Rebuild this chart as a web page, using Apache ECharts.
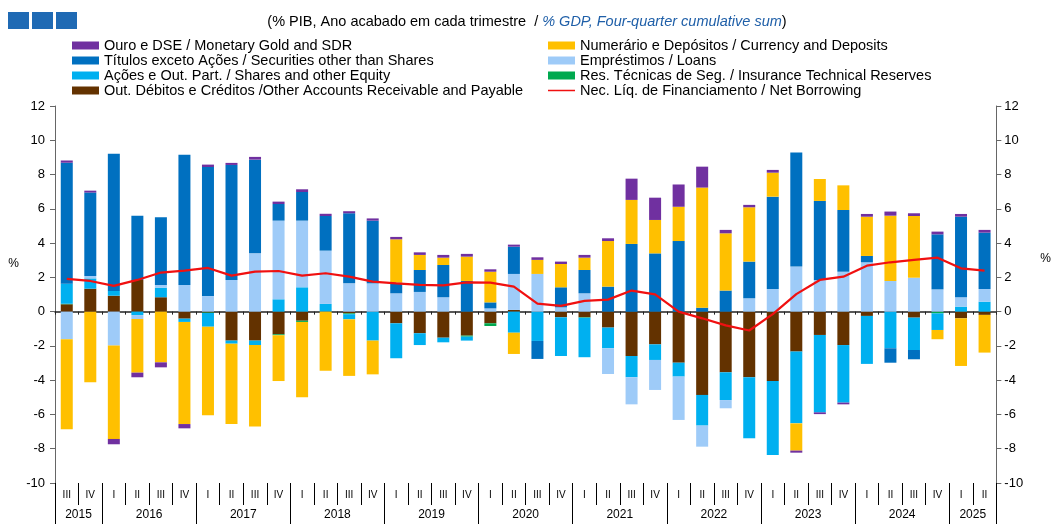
<!DOCTYPE html>
<html>
<head>
<meta charset="utf-8">
<script src="https://cdn.jsdelivr.net/npm/echarts@6/dist/echarts.min.js"></script>
<style>
  html, body { margin: 0; padding: 0; background: #fff; }
  #main { width: 1054px; height: 524px; }
</style>
</head>
<body>
<div id="main"></div>
<script>
// quarters on the axis, 2015 III .. 2025 II
const quarters = ['III','IV',
  'I','II','III','IV', 'I','II','III','IV', 'I','II','III','IV', 'I','II','III','IV',
  'I','II','III','IV', 'I','II','III','IV', 'I','II','III','IV', 'I','II','III','IV',
  'I','II','III','IV', 'I','II'];
const years = ['2015','2016','2017','2018','2019','2020','2021','2022','2023','2024','2025'];
const quartersPerYear = [2,4,4,4,4,4,4,4,4,4,2];
const yTicks = [-10,-8,-6,-4,-2,0,2,4,6,8,10,12];

// % GDP, four-quarter cumulative sum
const gold = [0.13,0.11,-0.31,-0.27,-0.29,-0.25,0.14,0.12,0.16,0.14,
  0.16,0.13,0.12,0.13,0.14,0.15,0.16,0.16,0.14,0.12,
  0.15,0.14,0.16,0.16,1.24,1.3,1.3,1.22,0.2,0.14,
  0.16,-0.12,-0.1,-0.1,0.16,0.24,0.16,0.16,0.16,0.16];
const currency = [-5.26,-4.12,-5.45,-3.13,-2.96,-5.96,-5.17,-4.69,-4.76,-2.67,
  -4.4,-3.45,-3.3,-1.97,2.53,0.88,0.43,1.42,1.79,-1.24,
  0.82,1.36,0.72,2.66,2.57,1.95,2.0,7.01,3.34,3.17,
  1.4,-1.59,1.28,1.44,2.29,3.81,3.6,-0.54,-2.78,-2.2];
const securities = [7.06,4.87,8.0,3.75,3.95,7.6,7.53,6.71,5.47,0.97,
  1.67,2.02,4.09,3.66,0.62,1.28,1.88,1.79,0.35,1.59,
  -1.05,1.17,1.36,1.46,3.95,3.4,4.12,0.23,1.23,2.14,
  5.39,6.65,4.61,3.6,0.37,-0.84,-0.54,3.21,4.7,3.29];
const loans = [-1.61,0.14,-1.98,-0.23,0.16,1.56,0.91,1.85,3.4,4.59,
  3.89,3.11,1.65,1.65,1.07,1.15,0.84,0,0.19,2.1,
  2.2,0.25,1.07,-1.5,-1.58,-1.75,-2.53,-1.23,-0.48,0.78,
  1.32,2.63,1.85,2.33,2.88,1.79,1.98,1.3,0.55,0.74];
const shares = [1.17,0.6,0.28,-0.2,0.56,-0.19,-0.8,-0.18,-0.26,0.72,
  1.42,0.45,-0.3,-1.69,-2.04,-0.69,-0.27,-0.23,0,-1.23,
  -1.71,-2.26,-2.3,-1.21,-1.24,-0.91,-0.81,-1.79,-1.62,-3.56,
  -4.32,-4.19,-4.52,-3.36,-2.8,-2.14,-1.89,-0.97,0.29,0.58];
const insurance = [0.03,0,0,0,0,0,-0.03,0,0,-0.06,
  -0.07,0,-0.05,0,0,0,0,-0.06,-0.16,0,
  0,0,-0.03,0,0,0,0,0,0,0,
  0,0,0,0,0,0,0,-0.1,0,0];
const otherAccounts = [0.43,1.34,0.93,1.85,0.84,-0.41,-0.05,-1.69,-1.69,-1.32,
  -0.53,0,-0.1,0,-0.68,-1.26,-1.52,-1.4,-0.68,0.1,
  0,-0.33,-0.33,-0.93,-2.59,-1.91,-2.98,-4.86,-3.54,-3.83,
  -4.05,-2.33,-1.36,-1.95,-0.25,0,-0.35,0,-0.39,-0.19];
const netBorrowing = [1.91,1.79,1.5,1.85,2.28,2.39,2.55,2.1,2.33,2.37,
  2.1,2.24,2.04,1.75,1.65,1.56,1.53,1.71,1.69,1.46,
  0.47,0.34,0.63,0.7,1.23,1.01,0.0,-0.39,-0.8,-1.1,
  -0.15,1.02,1.85,2.04,2.68,2.88,3.02,3.15,2.53,2.39];

const N_GOLD = 'Ouro e DSE / Monetary Gold and SDR';
const N_CUR = 'Numerário e Depósitos / Currency and Deposits';
const N_SEC = 'Títulos exceto Ações / Securities other than Shares';
const N_LOAN = 'Empréstimos / Loans';
const N_SHARE = 'Ações e Out. Part. / Shares and other Equity';
const N_INS = 'Res. Técnicas de Seg. / Insurance Technical Reserves';
const N_OTHER = 'Out. Débitos e Créditos /Other Accounts Receivable and Payable';
const N_NET = 'Nec. Líq. de Financiamento / Net Borrowing';

// year separators and year label positions on the 0..40 scale
const yearEdges = [0];
quartersPerYear.forEach(function (n) { yearEdges.push(yearEdges[yearEdges.length - 1] + n); });
const yearMids = quartersPerYear.map(function (n, k) { return yearEdges[k] + n / 2; });

const font = "'Liberation Sans', Arial, sans-serif";
// thin red bar for the line item in the legend (corner specks keep the box size)
const lineIcon = 'path://M0,0L0.01,0L0.01,0.01Z M0,3.2L27,3.2L27,4.8L0,4.8Z M26.99,8L27,8L27,7.99Z';

function barSeries(name, data, color) {
  return {
    name: name,
    type: 'bar',
    stack: 'total',
    barWidth: 12,
    data: data,
    itemStyle: { color: color }
  };
}

const chart = echarts.init(document.getElementById('main'));

const legendText = { fontFamily: font, fontSize: 14.5, color: '#000', lineHeight: 14.7 };

const option = {
  animation: false,
  textStyle: { fontFamily: font },
  title: {
    left: 'center',
    top: 9,
    text: '{a|(% PIB, Ano acabado em cada trimestre  / }{b|% GDP, Four-quarter cumulative sum}{a|)}',
    textStyle: {
      rich: {
        a: { fontFamily: font, fontSize: 14.5, color: '#000', fontWeight: 'normal' },
        b: { fontFamily: font, fontSize: 14.5, color: '#1f5fa8', fontStyle: 'italic', fontWeight: 'normal' }
      }
    }
  },
  graphic: [
    { type: 'rect', left: 8, top: 12, shape: { width: 21, height: 17 }, style: { fill: '#1f6ab4' } },
    { type: 'rect', left: 32, top: 12, shape: { width: 21, height: 17 }, style: { fill: '#1f6ab4' } },
    { type: 'rect', left: 56, top: 12, shape: { width: 21, height: 17 }, style: { fill: '#1f6ab4' } }
  ],
  legend: [{
    orient: 'vertical',
    left: 67,
    top: 33,
    itemWidth: 27,
    itemHeight: 8,
    itemGap: 0,
    icon: 'rect',
    textStyle: legendText,
    data: [N_GOLD, N_SEC, N_SHARE, N_OTHER]
  }, {
    orient: 'vertical',
    left: 543,
    top: 33,
    itemWidth: 27,
    itemHeight: 8,
    itemGap: 0,
    icon: 'rect',
    textStyle: legendText,
    data: [N_CUR, N_LOAN, N_INS, { name: N_NET, icon: lineIcon }]
  }],
  grid: { left: 55, right: 51, top: 106, bottom: 41 },
  xAxis: [{
    type: 'category',
    data: quarters,
    axisLine: { onZero: true, lineStyle: { color: '#222', width: 1.5 } },
    axisTick: { show: true, length: 3, interval: 0, lineStyle: { color: '#222' } },
    axisLabel: { show: false }
  }, {
    type: 'category',
    data: quarters,
    position: 'bottom',
    axisLine: { show: false, onZero: false },
    axisTick: { show: true, length: 22, interval: 0, lineStyle: { color: '#000' } },
    axisLabel: { interval: 0, margin: 7, fontSize: 10, color: '#000', fontFamily: font }
  }, {
    type: 'value',
    min: 0,
    max: 40,
    position: 'bottom',
    axisLine: { show: false, onZero: false },
    splitLine: { show: false },
    axisTick: { show: true, length: 41, customValues: yearEdges, lineStyle: { color: '#000' } },
    axisLabel: {
      customValues: yearMids,
      margin: 26,
      fontSize: 12,
      color: '#000',
      fontFamily: font,
      formatter: function (v) { return years[yearMids.indexOf(v)] || ''; }
    }
  }],
  yAxis: [{
    type: 'value',
    position: 'left',
    min: yTicks[0],
    max: yTicks[yTicks.length - 1],
    interval: 2,
    // trailing empty lines lift the % sign above the middle, as in the original
    name: '%\n\n\n\n',
    nameLocation: 'middle',
    nameRotate: 0,
    nameGap: 36,
    nameTextStyle: { fontSize: 12, lineHeight: 15.5, color: '#000', fontFamily: font },
    splitLine: { show: false },
    axisLine: { show: true, lineStyle: { color: '#666' } },
    axisTick: { show: true, length: 5, lineStyle: { color: '#666' } },
    axisLabel: { fontSize: 13, color: '#000', margin: 10, fontFamily: font }
  }, {
    type: 'value',
    position: 'right',
    min: yTicks[0],
    max: yTicks[yTicks.length - 1],
    interval: 2,
    name: '%\n\n\n\n',
    nameLocation: 'middle',
    nameRotate: 0,
    nameGap: 44,
    nameTextStyle: { fontSize: 12, lineHeight: 18, color: '#000', fontFamily: font },
    splitLine: { show: false },
    axisLine: { show: true, lineStyle: { color: '#666' } },
    axisTick: { show: true, length: 5, lineStyle: { color: '#666' } },
    axisLabel: { fontSize: 13, color: '#000', margin: 8, fontFamily: font }
  }],
  series: [
    barSeries(N_OTHER, otherAccounts, '#633200'),
    barSeries(N_INS, insurance, '#00a94f'),
    barSeries(N_SHARE, shares, '#00b0f0'),
    barSeries(N_LOAN, loans, '#9ecbf8'),
    barSeries(N_SEC, securities, '#0070c0'),
    barSeries(N_CUR, currency, '#ffc000'),
    barSeries(N_GOLD, gold, '#7030a0'),
    {
      name: N_NET,
      type: 'line',
      data: netBorrowing,
      symbol: 'none',
      z: 10,
      itemStyle: { color: '#f01010' },
      lineStyle: { color: '#f01010', width: 2.2 }
    }
  ]
};

chart.setOption(option);
</script>
</body>
</html>
